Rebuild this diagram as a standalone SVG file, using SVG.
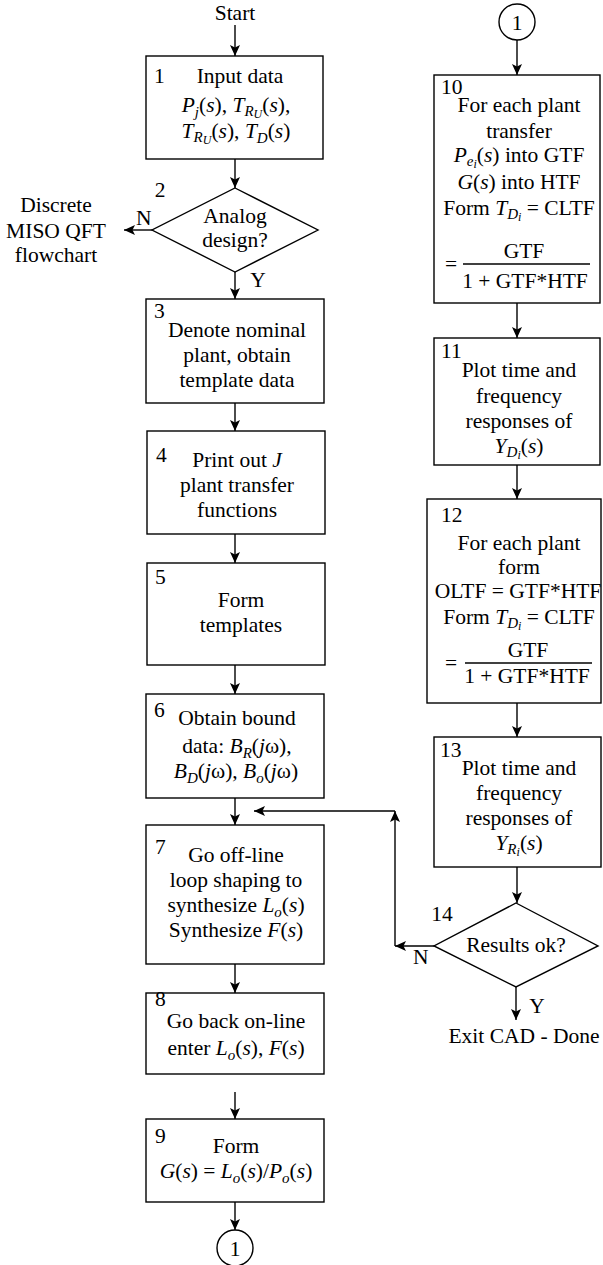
<svg xmlns="http://www.w3.org/2000/svg" width="603" height="1265" viewBox="0 0 603 1265">
  <style>
    .t { font-family: "Liberation Serif", "Times New Roman", serif; font-size: 21.5px; fill: #000; }
    .m { text-anchor: middle; }
    .i { font-style: italic; }
    .s { font-size: 15px; }
    .ss { font-size: 12px; }
    .box { fill: #fff; stroke: #000; stroke-width: 1.4; }
    .ln { fill: none; stroke: #000; stroke-width: 1.4; }
    .arr { fill: none; stroke: #000; stroke-width: 1.4; marker-end: url(#ah); }
  </style>
  <defs>
    <marker id="ah" markerUnits="userSpaceOnUse" markerWidth="12" markerHeight="10" refX="11" refY="5" orient="auto">
      <path d="M0,0 L11,5 L0,10 L2.5,5 z" fill="#000"/>
    </marker>
  </defs>
  <rect width="603" height="1265" fill="#fff"/>

  <!-- connectors -->
  <g id="connectors">
    <line class="arr" x1="235" y1="25" x2="235" y2="56"/>
    <line class="arr" x1="235" y1="159" x2="235" y2="188"/>
    <line class="arr" x1="152" y1="230" x2="124" y2="230"/>
    <line class="arr" x1="235" y1="272" x2="235" y2="299"/>
    <line class="arr" x1="235" y1="403" x2="235" y2="431"/>
    <line class="arr" x1="235" y1="534" x2="235" y2="563"/>
    <line class="arr" x1="235" y1="665" x2="235" y2="694"/>
    <line class="arr" x1="235" y1="798" x2="235" y2="825"/>
    <line class="arr" x1="235" y1="964" x2="235" y2="993"/>
    <line class="arr" x1="235" y1="1092" x2="235" y2="1119"/>
    <line class="arr" x1="235" y1="1202" x2="235" y2="1230"/>
    <line class="arr" x1="517" y1="40" x2="517" y2="75"/>
    <line class="arr" x1="517" y1="303" x2="517" y2="338"/>
    <line class="arr" x1="517" y1="465" x2="517" y2="499"/>
    <line class="arr" x1="517" y1="703" x2="517" y2="737"/>
    <line class="arr" x1="517" y1="867" x2="517" y2="903"/>
    <line class="arr" x1="516" y1="987" x2="516" y2="1020"/>
    <!-- feedback loop from "Results ok?" back to step 7 -->
    <line class="arr" x1="434" y1="946" x2="395" y2="946"/>
    <line class="arr" x1="395" y1="946" x2="395" y2="811"/>
    <line class="arr" x1="395" y1="811" x2="254" y2="811"/>
    <text class="t m" x="235" y="20">Start</text>
    <text class="t" x="136" y="225">N</text>
    <text class="t m" x="258" y="287">Y</text>
    <text class="t" x="413" y="964">N</text>
    <text class="t m" x="537" y="1013">Y</text>
    <text class="t m" x="524" y="1043">Exit CAD - Done</text>
    <text class="t m" x="56" y="212">Discrete</text>
    <text class="t m" x="56" y="238">MISO QFT</text>
    <text class="t m" x="56" y="262">flowchart</text>
  </g>

  <!-- 1: input data -->
  <g id="n1">
    <rect class="box" x="146" y="56" width="177" height="103"/>
    <text class="t" x="154" y="83">1</text>
    <text class="t m" x="240" y="83">Input data</text>
    <text class="t m" x="236" y="112"><tspan class="i">P</tspan><tspan class="i s" dy="5">j</tspan><tspan dy="-5">(</tspan><tspan class="i">s</tspan>), <tspan class="i">T</tspan><tspan class="i s" dy="4">R</tspan><tspan class="i ss" dy="2">U</tspan><tspan dy="-6">(</tspan><tspan class="i">s</tspan>),</text>
    <text class="t m" x="236" y="138"><tspan class="i">T</tspan><tspan class="i s" dy="4">R</tspan><tspan class="i ss" dy="2">U</tspan><tspan dy="-6">(</tspan><tspan class="i">s</tspan>), <tspan class="i">T</tspan><tspan class="i s" dy="5">D</tspan><tspan dy="-5">(</tspan><tspan class="i">s</tspan>)</text>
  </g>

  <!-- 2: analog design? -->
  <g id="n2">
    <polygon class="box" points="235,188 318,230 235,272 152,230"/>
    <text class="t m" x="160" y="197">2</text>
    <text class="t m" x="235" y="223">Analog</text>
    <text class="t m" x="235" y="247">design?</text>
  </g>

  <!-- 3 -->
  <g id="n3">
    <rect class="box" x="146" y="299" width="178" height="104"/>
    <text class="t" x="154" y="318">3</text>
    <text class="t m" x="237" y="337">Denote nominal</text>
    <text class="t m" x="237" y="362">plant, obtain</text>
    <text class="t m" x="237" y="387">template data</text>
  </g>

  <!-- 4 -->
  <g id="n4">
    <rect class="box" x="147" y="431" width="178" height="103"/>
    <text class="t" x="156" y="462">4</text>
    <text class="t m" x="237" y="467">Print out <tspan class="i">J</tspan></text>
    <text class="t m" x="237" y="492">plant transfer</text>
    <text class="t m" x="237" y="517">functions</text>
  </g>

  <!-- 5 -->
  <g id="n5">
    <rect class="box" x="147" y="563" width="178" height="102"/>
    <text class="t" x="155" y="584">5</text>
    <text class="t m" x="241" y="607">Form</text>
    <text class="t m" x="241" y="632">templates</text>
  </g>

  <!-- 6 -->
  <g id="n6">
    <rect class="box" x="146" y="694" width="178" height="104"/>
    <text class="t" x="154" y="717">6</text>
    <text class="t m" x="237" y="725">Obtain bound</text>
    <text class="t m" x="237" y="753">data: <tspan class="i">B</tspan><tspan class="i s" dy="5">R</tspan><tspan dy="-5">(</tspan><tspan class="i">j</tspan>ω),</text>
    <text class="t m" x="236" y="778"><tspan class="i">B</tspan><tspan class="i s" dy="5">D</tspan><tspan dy="-5">(</tspan><tspan class="i">j</tspan>ω), <tspan class="i">B</tspan><tspan class="i s" dy="5">o</tspan><tspan dy="-5">(</tspan><tspan class="i">j</tspan>ω)</text>
  </g>

  <!-- 7 -->
  <g id="n7">
    <rect class="box" x="146" y="825" width="178" height="139"/>
    <text class="t" x="155" y="854">7</text>
    <text class="t m" x="236" y="862">Go off-line</text>
    <text class="t m" x="236" y="887">loop shaping to</text>
    <text class="t m" x="236" y="912">synthesize <tspan class="i">L</tspan><tspan class="i s" dy="5">o</tspan><tspan dy="-5">(</tspan><tspan class="i">s</tspan>)</text>
    <text class="t m" x="236" y="937">Synthesize <tspan class="i">F</tspan>(<tspan class="i">s</tspan>)</text>
  </g>

  <!-- 8 -->
  <g id="n8">
    <rect class="box" x="146" y="993" width="178" height="81"/>
    <text class="t" x="155" y="1006">8</text>
    <text class="t m" x="236" y="1028">Go back on-line</text>
    <text class="t m" x="236" y="1055">enter <tspan class="i">L</tspan><tspan class="i s" dy="5">o</tspan><tspan dy="-5">(</tspan><tspan class="i">s</tspan>), <tspan class="i">F</tspan>(<tspan class="i">s</tspan>)</text>
  </g>

  <!-- 9 -->
  <g id="n9">
    <rect class="box" x="146" y="1119" width="178" height="83"/>
    <text class="t" x="155" y="1143">9</text>
    <text class="t m" x="236" y="1153">Form</text>
    <text class="t m" x="236" y="1178"><tspan class="i">G</tspan>(<tspan class="i">s</tspan>) = <tspan class="i">L</tspan><tspan class="i s" dy="5">o</tspan><tspan dy="-5">(</tspan><tspan class="i">s</tspan>)/<tspan class="i">P</tspan><tspan class="i s" dy="5">o</tspan><tspan dy="-5">(</tspan><tspan class="i">s</tspan>)</text>
  </g>

  <!-- off-page connectors -->
  <g id="c1a">
    <circle class="box" cx="235" cy="1248" r="18"/>
    <text class="t m" x="235" y="1256">1</text>
  </g>
  <g id="c1b">
    <circle class="box" cx="517" cy="22" r="18"/>
    <text class="t m" x="517" y="30">1</text>
  </g>

  <!-- 10 -->
  <g id="n10">
    <rect class="box" x="434" y="75" width="166" height="228"/>
    <text class="t" x="441" y="94">10</text>
    <text class="t m" x="519" y="112">For each plant</text>
    <text class="t m" x="519" y="138">transfer</text>
    <text class="t m" x="519" y="162"><tspan class="i">P</tspan><tspan class="i s" dy="4">e</tspan><tspan class="i ss" dy="2">i</tspan><tspan dy="-6">(</tspan><tspan class="i">s</tspan>) into GTF</text>
    <text class="t m" x="519" y="189"><tspan class="i">G</tspan>(<tspan class="i">s</tspan>) into HTF</text>
    <text class="t m" x="519" y="215">Form <tspan class="i">T</tspan><tspan class="i s" dy="4">D</tspan><tspan class="i ss" dy="2">i</tspan><tspan dy="-6"> = CLTF</tspan></text>
    <text class="t" x="445" y="271">=</text>
    <text class="t m" x="524" y="258">GTF</text>
    <line class="ln" x1="463" y1="264" x2="590" y2="264"/>
    <text class="t m" x="525" y="288">1 + GTF*HTF</text>
  </g>

  <!-- 11 -->
  <g id="n11">
    <rect class="box" x="434" y="338" width="166" height="127"/>
    <text class="t" x="441" y="358">11</text>
    <text class="t m" x="519" y="377">Plot time and</text>
    <text class="t m" x="519" y="403">frequency</text>
    <text class="t m" x="519" y="428">responses of</text>
    <text class="t m" x="519" y="453"><tspan class="i">Y</tspan><tspan class="i s" dy="4">D</tspan><tspan class="i ss" dy="2">i</tspan><tspan dy="-6">(</tspan><tspan class="i">s</tspan>)</text>
  </g>

  <!-- 12 -->
  <g id="n12">
    <rect class="box" x="427" y="499" width="174" height="204"/>
    <text class="t" x="441" y="522">12</text>
    <text class="t m" x="519" y="550">For each plant</text>
    <text class="t m" x="519" y="574">form</text>
    <text class="t m" x="518" y="598">OLTF = GTF*HTF</text>
    <text class="t m" x="519" y="624">Form <tspan class="i">T</tspan><tspan class="i s" dy="4">D</tspan><tspan class="i ss" dy="2">i</tspan><tspan dy="-6"> = CLTF</tspan></text>
    <text class="t" x="445" y="670">=</text>
    <text class="t m" x="528" y="657">GTF</text>
    <line class="ln" x1="465" y1="663" x2="592" y2="663"/>
    <text class="t m" x="527" y="683">1 + GTF*HTF</text>
  </g>

  <!-- 13 -->
  <g id="n13">
    <rect class="box" x="434" y="737" width="167" height="130"/>
    <text class="t" x="440" y="757">13</text>
    <text class="t m" x="519" y="775">Plot time and</text>
    <text class="t m" x="519" y="800">frequency</text>
    <text class="t m" x="519" y="825">responses of</text>
    <text class="t m" x="519" y="850"><tspan class="i">Y</tspan><tspan class="i s" dy="4">R</tspan><tspan class="i ss" dy="2">i</tspan><tspan dy="-6">(</tspan><tspan class="i">s</tspan>)</text>
  </g>

  <!-- 14: results ok? -->
  <g id="n14">
    <polygon class="box" points="516,903 598,946 516,987 434,946"/>
    <text class="t m" x="442" y="921">14</text>
    <text class="t m" x="516" y="952">Results ok?</text>
  </g>
</svg>
